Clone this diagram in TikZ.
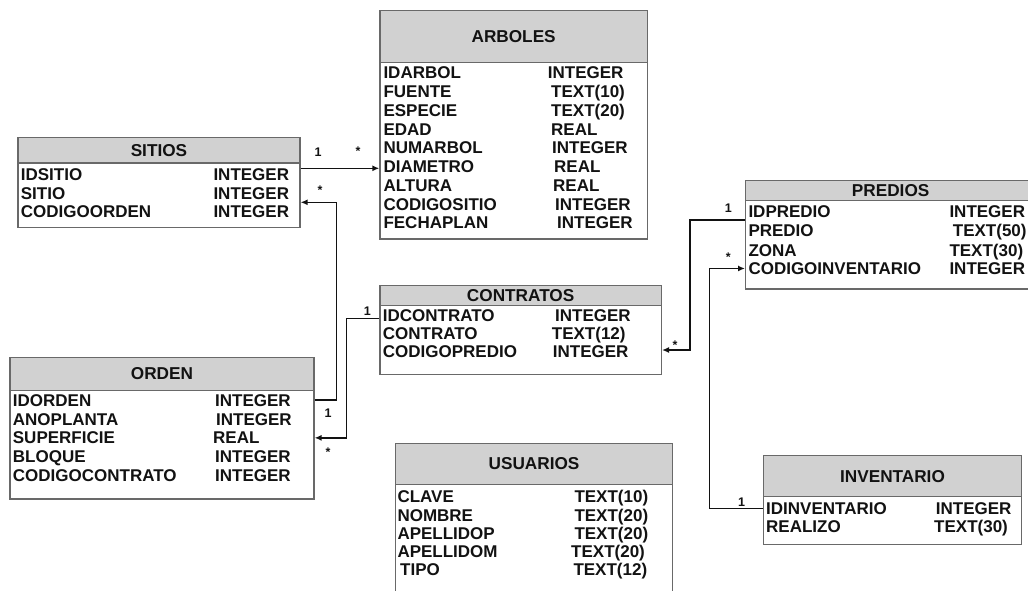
\documentclass[tikz,border=0pt]{standalone}
\usepackage{fontspec}
\setmainfont{Liberation Sans}
\usetikzlibrary{arrows.meta}
\definecolor{hdrfill}{RGB}{209,209,209}
\definecolor{boxline}{RGB}{105,105,105}
\definecolor{ink}{RGB}{18,18,18}
\tikzset{
  tblbody/.style={draw=boxline, line width=1.3pt, fill=white, anchor=north west, inner sep=0pt},
  tblhead/.style={draw=boxline, line width=1.3pt, fill=hdrfill, anchor=north west, inner sep=0pt,
    font=\fontsize{17.2}{17}\selectfont\bfseries, text=ink},
  field/.style={anchor=base west, inner sep=0pt, font=\fontsize{17}{17}\selectfont\bfseries, text=ink},
  conn/.style={draw=ink, line width=1.5pt},
  arr/.style={-{Latex[length=7pt,width=6pt]}},
  mult/.style={inner sep=0pt, font=\fontsize{12.5}{12}\selectfont\bfseries, text=ink},
}
\begin{document}
\begin{tikzpicture}[x=1pt,y=-1pt]
\useasboundingbox (0,0) rectangle (1028,590);
\clip (0,0) rectangle (1028,590);

% ---------- ARBOLES ----------
\node[tblbody, minimum width=267.4pt, minimum height=176.6pt] (arbB) at (379.3,61.7) {};
\node[tblhead, minimum width=267.4pt, minimum height=52.2pt] (arbH) at (379.3,9.5) {ARBOLES};
\foreach \n/\t/\tx/\y [count=\i] in {
  IDARBOL/INTEGER/547.7/72.7, FUENTE/TEXT(10)/551/91.7, ESPECIE/TEXT(20)/551/110,
  EDAD/REAL/551/129, NUMARBOL/INTEGER/552/147.7, DIAMETRO/REAL/554/166,
  ALTURA/REAL/553/185, CODIGOSITIO/INTEGER/555/204, FECHAPLAN/INTEGER/557/222.7}{
  \node[field] (arbR\i) at (383.3,\y+6) {\n};
  \node[field] (arbT\i) at (\tx,\y+6) {\t};
}

% ---------- SITIOS ----------
\node[tblbody, minimum width=282pt, minimum height=64.4pt] (sitB) at (17.3,162.3) {};
\node[tblhead, minimum width=282pt, minimum height=25.6pt] (sitH) at (17.3,136.7) {SITIOS};
\foreach \n/\t/\y [count=\i] in {IDSITIO/INTEGER/174.3, SITIO/INTEGER/193.3, CODIGOORDEN/INTEGER/211.7}{
  \node[field] (sitR\i) at (20.7,\y+6) {\n};
  \node[field] (sitT\i) at (213.3,\y+6) {\t};
}

% ---------- ORDEN ----------
\node[tblbody, minimum width=304pt, minimum height=108.3pt] (ordB) at (9.3,390) {};
\node[tblhead, minimum width=304pt, minimum height=33.3pt] (ordH) at (9.3,356.7) {ORDEN};
\foreach \n/\t/\tx/\y [count=\i] in {
  IDORDEN/INTEGER/215/400, ANOPLANTA/INTEGER/216/419, SUPERFICIE/REAL/213/437.7,
  BLOQUE/INTEGER/215/456, CODIGOCONTRATO/INTEGER/215/475}{
  \node[field] (ordR\i) at (12.7,\y+6) {\n};
  \node[field] (ordT\i) at (\tx,\y+6) {\t};
}

% ---------- CONTRATOS ----------
\node[tblbody, minimum width=281.4pt, minimum height=69pt] (conB) at (379.3,305) {};
\node[tblhead, minimum width=281.4pt, minimum height=20pt] (conH) at (379.3,285) {CONTRATOS};
\foreach \n/\t/\tx/\y [count=\i] in {
  IDCONTRATO/INTEGER/555/315, CONTRATO/TEXT(12)/551.7/333.3, CODIGOPREDIO/INTEGER/552.7/351.7}{
  \node[field] (conR\i) at (382.7,\y+6) {\n};
  \node[field] (conT\i) at (\tx,\y+6) {\t};
}

% ---------- PREDIOS ----------
\node[tblbody, minimum width=290pt, minimum height=88.3pt] (preB) at (745,200) {};
\node[tblhead, minimum width=290pt, minimum height=20pt] (preH) at (745,180) {PREDIOS};
\foreach \n/\t/\tx/\y [count=\i] in {
  IDPREDIO/INTEGER/949.3/211.7, PREDIO/TEXT(50)/952.7/230, ZONA/TEXT(30)/949.3/250,
  CODIGOINVENTARIO/INTEGER/949.3/268.3}{
  \node[field] (preR\i) at (748.3,\y+6) {\n};
  \node[field] (preT\i) at (\tx,\y+6) {\t};
}

% ---------- INVENTARIO ----------
\node[tblbody, minimum width=258.3pt, minimum height=48pt] (invB) at (762.7,496) {};
\node[tblhead, minimum width=258.3pt, minimum height=41pt] (invH) at (762.7,455) {INVENTARIO};
\foreach \n/\t/\tx/\y [count=\i] in {IDINVENTARIO/INTEGER/935.7/508.3, REALIZO/TEXT(30)/934/526.7}{
  \node[field] (invR\i) at (766,\y+6) {\n};
  \node[field] (invT\i) at (\tx,\y+6) {\t};
}

% ---------- USUARIOS ----------
\node[tblbody, minimum width=276.7pt, minimum height=120pt] (usuB) at (395,484) {};
\node[tblhead, minimum width=276.7pt, minimum height=41.3pt] (usuH) at (395,442.7) {USUARIOS};
\foreach \n/\nx/\t/\tx/\y [count=\i] in {
  CLAVE/397.3/TEXT(10)/574.3/496.7, NOMBRE/397.3/TEXT(20)/574.3/515,
  APELLIDOP/397.3/TEXT(20)/574.3/533.3, APELLIDOM/397.3/TEXT(20)/571/551.7,
  TIPO/400/TEXT(12)/573.3/569.3}{
  \node[field] (usuR\i) at (\nx,\y+6) {\n};
  \node[field] (usuT\i) at (\tx,\y+6) {\t};
}

% ---------- relationships ----------
\coordinate (j1) at (340,168.3);
\coordinate (j2) at (336.7,202.3);
\coordinate (j3) at (346.7,318.3);
\coordinate (j4) at (690,220);
\coordinate (j4b) at (690,350);
\coordinate (j5) at (709.5,0);

% SITIOS -> ARBOLES
\draw[conn,arr] (sitB.east |- j1) -- (arbB.west |- j1);
% ORDEN -> SITIOS
\draw[conn,arr] (ordB.east |- ordR1) -| (j2) -- (j2 -| sitB.east);
% CONTRATOS -> ORDEN
\draw[conn,arr] (conB.west |- j3) -- (j3) |- (ordB.east |- ordR3);
% PREDIOS -> CONTRATOS
\draw[conn,arr] (preB.west |- j4) -- (j4) -- (j4b) -- (j4b -| conB.east);
% INVENTARIO -> PREDIOS
\draw[conn,arr] (invB.west |- invR1) -| (j5 |- preR4) -- (preB.west |- preR4);

% multiplicities
\node[mult] (m1) at (318,151.7) {1};
\node[mult] (m2) at (358,151) {*};
\node[mult] (m3) at (320,190) {*};
\node[mult] (m4) at (328,413) {1};
\node[mult] (m5) at (328,452) {*};
\node[mult] (m6) at (367.3,310.7) {1};
\node[mult] (m7) at (675,345) {*};
\node[mult] (m8) at (728.3,208.3) {1};
\node[mult] (m9) at (728.3,257) {*};
\node[mult] (m10) at (741.7,501.7) {1};
\end{tikzpicture}
\end{document}
